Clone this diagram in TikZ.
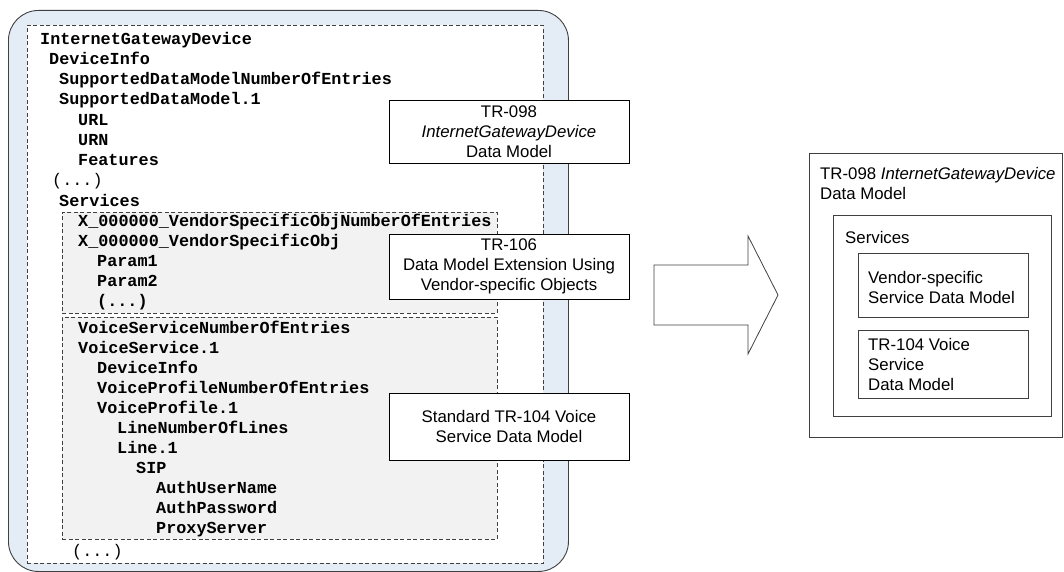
\documentclass[tikz,border=0pt]{standalone}
\usepackage{fontspec}
\setmainfont{Liberation Sans}
\newfontfamily\monofam{Liberation Mono}
\definecolor{panelblue}{HTML}{E4ECF6}
\definecolor{boxgray}{HTML}{F2F2F2}
\definecolor{edgegray}{HTML}{404040}
\begin{document}
\begin{tikzpicture}[x=1pt,y=-1pt,
  font=\fontsize{16.8}{20}\selectfont,
  panel/.style={draw=edgegray, line width=0.9pt, fill=panelblue, rounded corners=30pt, inner sep=0pt, anchor=north west},
  dashbox/.style={draw=edgegray, line width=0.8pt, dash pattern=on 4pt off 2.5pt, inner sep=0pt, anchor=north west},
  labelbox/.style={draw=black, line width=0.8pt, fill=white, inner sep=0pt, align=center, anchor=center},
  plainbox/.style={draw=edgegray, line width=0.8pt, fill=white, inner sep=0pt, anchor=north west},
  mono/.style={font=\fontsize{16.8}{20}\selectfont\monofam\bfseries, anchor=base west, inner sep=0pt},
  monoreg/.style={font=\fontsize{16.8}{20}\selectfont\monofam, anchor=base west, inner sep=0pt},
  txt/.style={anchor=base west, inner sep=0pt, align=left}
]
\useasboundingbox (0,0) rectangle (1064,572);

% left panel
\node[panel, minimum width=560pt, minimum height=561pt] (panel) at (8,10) {};
\node[dashbox, fill=white, minimum width=516pt, minimum height=538pt] (inner) at (27,25) {};
\node[dashbox, fill=boxgray, minimum width=435pt, minimum height=101pt] (vendor) at (62,212) {};
\node[dashbox, fill=boxgray, minimum width=435pt, minimum height=222pt] (voice) at (62,317) {};

% tree text
\node[mono] (l1) at (40,45) {InternetGatewayDevice};
\node[mono] (l2) at (49,65) {DeviceInfo};
\node[mono] (l3) at (59,85) {SupportedDataModelNumberOfEntries};
\node[mono] (l4) at (59,105) {SupportedDataModel.1};
\node[mono] (l5) at (78,125.5) {URL};
\node[mono] (l6) at (78,146) {URN};
\node[mono] (l7) at (78,166) {Features};
\node[monoreg] (l8) at (52,185.5) {(...)};
\node[mono] (l9) at (59,206.5) {Services};
\node[mono] (l10) at (78,226.5) {X\_000000\_VendorSpecificObjNumberOfEntries};
\node[mono] (l11) at (78,246.5) {X\_000000\_VendorSpecificObj};
\node[mono] (l12) at (97,266.5) {Param1};
\node[mono] (l13) at (97,286.5) {Param2};
\node[mono] (l14) at (97,306.5) {(...)};
\node[mono] (l15) at (78,333) {VoiceServiceNumberOfEntries};
\node[mono] (l16) at (78,353) {VoiceService.1};
\node[mono] (l17) at (97,373) {DeviceInfo};
\node[mono] (l18) at (97,393) {VoiceProfileNumberOfEntries};
\node[mono] (l19) at (97,413) {VoiceProfile.1};
\node[mono] (l20) at (117,433) {LineNumberOfLines};
\node[mono] (l21) at (117,453) {Line.1};
\node[mono] (l22) at (136,473) {SIP};
\node[mono] (l23) at (156,493) {AuthUserName};
\node[mono] (l24) at (156,513) {AuthPassword};
\node[mono] (l25) at (156,533) {ProxyServer};
\node[monoreg] (l26) at (72,556.5) {(...)};

% label boxes
\node[labelbox, minimum width=240pt, minimum height=63pt] (b098) at (509,131.5) {TR-098\\\textit{InternetGatewayDevice}\\Data Model};
\node[labelbox, minimum width=240pt, minimum height=65pt] (b106) at (509,266.5) {TR-106\\Data Model Extension Using\\Vendor-specific Objects};
\node[labelbox, minimum width=240pt, minimum height=67pt] (b104) at (509,426.5) {Standard TR-104 Voice\\Service Data Model};

% big arrow
\draw[draw=edgegray, line width=0.8pt, fill=white, line join=miter]
  (654,265) -- (748,265) -- (748,236) -- (778,295) -- (748,354) -- (748,325) -- (654,325) -- cycle;

% right side
\node[plainbox, minimum width=253pt, minimum height=284pt] (rout) at (809,153) {};
\node[plainbox, minimum width=218pt, minimum height=201pt] (rserv) at (833,215) {};
\node[plainbox, minimum width=170pt, minimum height=64pt] (rvend) at (858,253) {};
\node[plainbox, minimum width=170pt, minimum height=68pt] (rvoice) at (858,330) {};
\node[txt] (trout) at (820,199) {TR-098 \textit{InternetGatewayDevice}\\Data Model};
\node[txt] (tserv) at (845,243) {Services};
\node[txt] (tvend) at (868,303) {Vendor-specific\\Service Data Model};
\node[txt] (tvoice) at (868,390) {TR-104 Voice\\Service\\Data Model};
\end{tikzpicture}
\end{document}
